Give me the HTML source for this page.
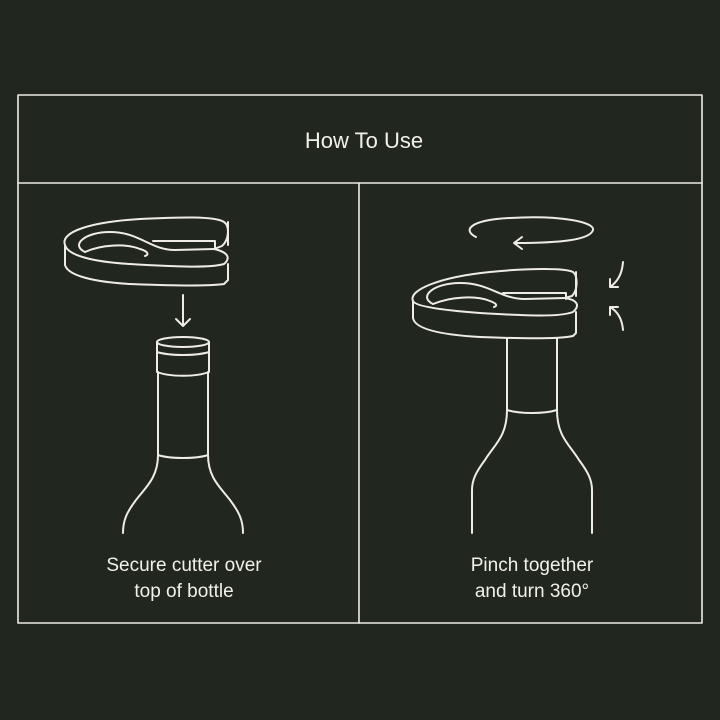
<!DOCTYPE html>
<html><head><style>
html,body{margin:0;padding:0;background:#21261f;}
svg{display:block}
text{font-family:"Liberation Sans",sans-serif;fill:#f2f0ea;}
</style></head><body>
<svg width="720" height="720" viewBox="0 0 720 720" xmlns="http://www.w3.org/2000/svg">
<rect width="720" height="720" fill="#21261f"/>
<g fill="none" stroke="#eeece4" stroke-width="1.6" stroke-linecap="round" stroke-linejoin="round">
<rect x="18" y="95" width="684" height="528"/>
<line x1="18" y1="183" x2="702" y2="183"/>
<line x1="359" y1="183" x2="359" y2="623"/>
</g>
<text x="364" y="148" font-size="22" text-anchor="middle">How To Use</text>
<text x="184" y="571" font-size="19" text-anchor="middle">Secure cutter over</text>
<text x="184" y="597" font-size="19" text-anchor="middle">top of bottle</text>
<text x="532" y="571" font-size="19" text-anchor="middle">Pinch together</text>
<text x="532" y="597" font-size="19" text-anchor="middle">and turn 360°</text>

<g fill="none" stroke="#eeece4" stroke-width="2" stroke-linecap="round" stroke-linejoin="round">
<!-- left cutter -->
<path d="M65 245 C60 232 90 222 140 219 C180 217 215 216 224 222 C230 226 229 240 222 246 L214 249 C228 252 231 258 224 264 C210 268 180 267 130 264 C95 262 68 256 65 245 Z"/>
<path d="M65 245 L65 265 C68 276 95 282 130 284 C180 286 210 286 224 284 L228 280 L228 264"/>
<path d="M228 222 L228 245"/>
<path d="M85 252 C70 245 85 232 110 232 C140 232 150 250 175 250 L214 249"/>
<path d="M85 252 C100 245 125 243 140 249 C150 252 148 255 145 256"/>
<path d="M153 241 L215 241 L215 249"/>
<!-- arrow -->
<path d="M183 295 L183 326 M176 319 L183 326 L190 319"/>
<!-- left bottle -->
<ellipse cx="183" cy="342" rx="26" ry="5"/>
<path d="M157 342 L157 372 C170 377 196 377 209 372 L209 342"/>
<path d="M157 352 C170 356 196 356 209 352"/>
<path d="M158 372 L158 455 C158 478 145 488 136 500 C127 512 123 520 123 533"/>
<path d="M208 372 L208 455 C208 478 221 488 230 500 C239 512 243 520 243 533"/>
<path d="M158 455 C170 459 196 459 208 455"/>
<!-- rotation arrow -->
<path d="M476 237 C462 230 470 220 510 218 C560 215 595 222 593 230 C590 240 560 243 515 243"/>
<path d="M522 237 L514 243 L522 249"/>
<!-- right cutter -->
<path d="M413 301 C408 290 440 277 490 272 C530 268 565 268 573 272 C578 276 578 290 572 296 L565 298 C578 300 580 306 573 312 C560 317 530 316 480 313 C440 310 415 306 413 301 Z"/>
<path d="M413 301 L413 318 C415 330 445 335 480 337 C530 339 560 339 573 336 L576 333 L576 312"/>
<path d="M576 272 L576 296"/>
<path d="M433 304 C418 297 433 283 460 283 C490 283 500 299 525 299 L565 298"/>
<path d="M433 304 C450 297 475 295 490 301 C498 304 497 306 494 307"/>
<path d="M503 293 L566 293 L566 299"/>
<!-- right bottle -->
<path d="M507 338 L507 410 C507 437 494 445 485 460 C476 472 472 480 472 490 L472 533"/>
<path d="M557 338 L557 410 C557 437 570 445 579 460 C588 472 592 480 592 490 L592 533"/>
<path d="M507 410 C520 414 544 414 557 410"/>
<!-- pinch arrows -->
<path d="M623 262 C622 275 617 282 610 287 M610 279 L610 287 L618 287"/>
<path d="M623 330 C622 318 617 311 610 307 M610 315 L610 307 L618 307"/>
</g>
</svg>
</body></html>
